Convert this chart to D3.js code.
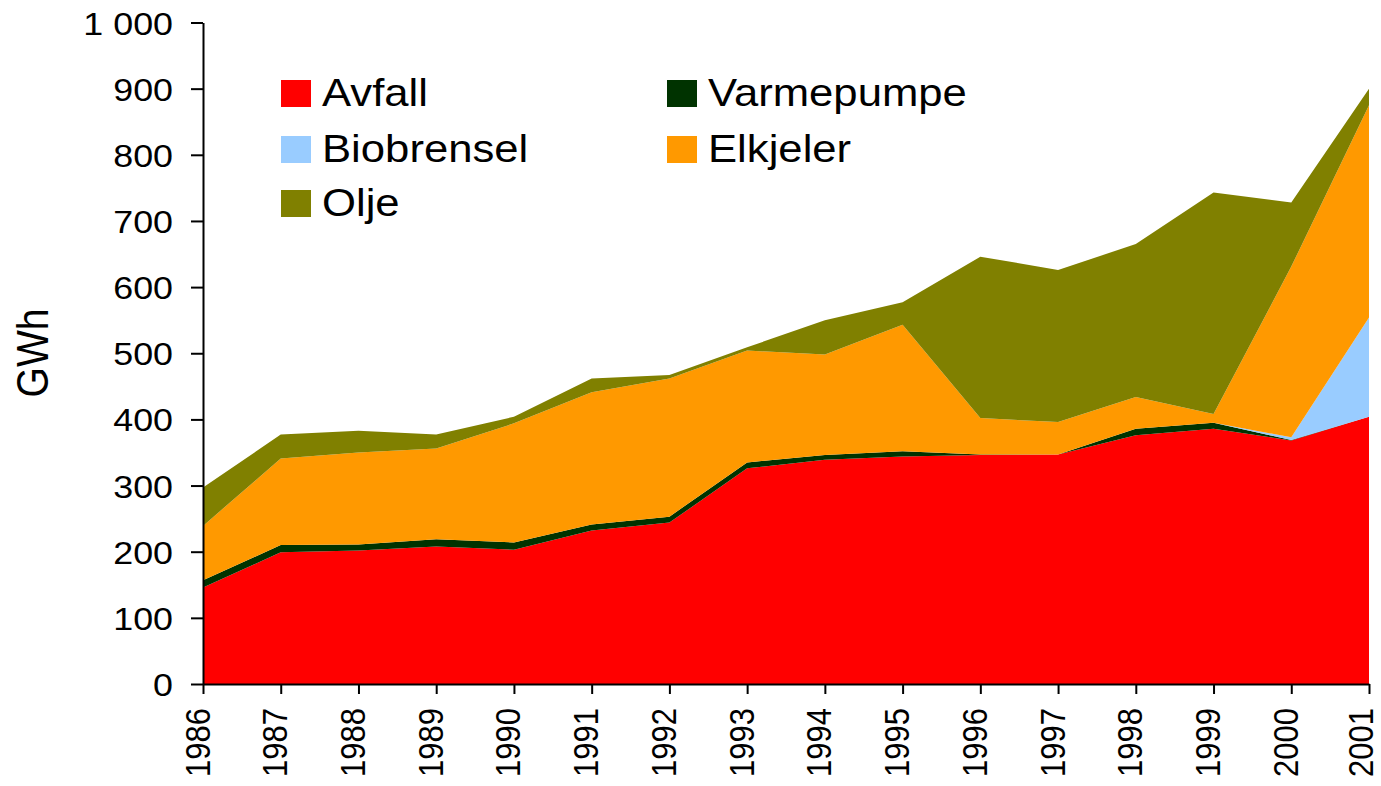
<!DOCTYPE html>
<html>
<head>
<meta charset="utf-8">
<script src="https://cdn.jsdelivr.net/npm/d3@7"></script>
<style>
  html, body { margin: 0; padding: 0; background: #fff; }
  svg { display: block; font-family: Arial, "Liberation Sans", sans-serif; }
</style>
</head>
<body>
<svg id="chart" width="1381" height="786"></svg>
<script>
/*
 * Data (GWh)
 * ========================================================================== */
const years      = [1986, 1987, 1988, 1989, 1990, 1991, 1992, 1993, 1994, 1995, 1996, 1997, 1998, 1999, 2000, 2001];
const avfall     = [146, 199, 202, 208, 203, 232, 244, 326, 339, 344, 346, 347, 376, 386, 368, 404];
const varmepumpe = [11, 11, 9, 11, 11, 9, 9, 9, 7, 8, 1, 0, 10, 9, 1, 0];
const biobrensel = [0, 0, 0, 0, 0, 0, 0, 0, 0, 0, 0, 0, 0, 0, 4, 150];
const elkjeler   = [82, 131, 139, 137, 180, 200, 209, 169, 152, 191, 55, 49, 48, 13, 258, 321];
const olje       = [58, 36, 33, 21, 10, 21, 5, 5, 52, 34, 244, 230, 231, 335, 97, 25];

const seriesNames  = ['Avfall', 'Varmepumpe', 'Biobrensel', 'Elkjeler', 'Olje'];
const seriesColors = ['#ff0000', '#003300', '#99ccff', '#ff9900', '#808000'];
const yTicks       = [0, 100, 200, 300, 400, 500, 600, 700, 800, 900, 1000];

// the original picture is stretched sideways a little
const STRETCH = 1.12;

const svg = d3.select('#chart');

let x = d3.scalePoint()
          .domain(years)
          .range([203, 1369]);

let y = d3.scaleLinear()
          .domain([0, 1000])
          .range([684, 22.5]);

/*
 * Stack the series
 */
let rows = years.map( (yr, i) => ({
  year: yr,
  Avfall: avfall[i],
  Varmepumpe: varmepumpe[i],
  Biobrensel: biobrensel[i],
  Elkjeler: elkjeler[i],
  Olje: olje[i]
}));

let stacked = d3.stack().keys(seriesNames)(rows);

let area = d3.area()
             .x(d => x(d.data.year))
             .y0(d => y(d[0]))
             .y1(d => y(d[1]));

svg.append('g')
    .selectAll('path')
    .data(stacked)
  .enter().append('path')
    .attr('d', area)
    .attr('fill', (d, i) => seriesColors[i]);

/*
 * Axes
 */
const fmt = d3.formatLocale({ decimal: ',', thousands: ' ', grouping: [3], currency: ['', ''] }).format(',');

let yAxis = svg.append('g')
    .attr('transform', 'translate(' + x(years[0]) + ',0)')
    .call(d3.axisLeft(y).tickValues(yTicks).tickFormat(fmt).tickSize(12).tickSizeOuter(0));

yAxis.selectAll('text')
    .attr('x', -30 / STRETCH)
    .attr('transform', 'scale(' + STRETCH + ',1)')
    .attr('dy', '0.36em')
    .style('font-size', '32px')
    .attr('fill', '#000');

let xAxis = svg.append('g')
    .attr('transform', 'translate(0,' + y(0) + ')')
    .call(d3.axisBottom(x).tickSize(10).tickSizeOuter(0));

// last label is nudged in so it stays inside the page
xAxis.selectAll('text')
    .attr('x', null)
    .attr('y', null)
    .attr('dy', null)
    .attr('text-anchor', 'end')
    .attr('transform', (d, i) => 'translate(' + (i === years.length - 1 ? 3 : 6) + ',24) rotate(-90) scale(1,' + STRETCH + ')')
    .style('font-size', '31px')
    .attr('fill', '#000');

svg.selectAll('.domain, .tick line')
    .attr('stroke', '#000')
    .attr('stroke-width', 2);

// y axis title
svg.append('text')
    .attr('transform', 'translate(48,353) rotate(-90) scale(1,' + STRETCH + ')')
    .attr('text-anchor', 'middle')
    .style('font-size', '39px')
    .text('GWh');

/*
 * Legend
 */
let legendPos = [
  { x: 281, y: 80 },  { x: 667, y: 80 },
  { x: 281, y: 136 }, { x: 667, y: 136 },
  { x: 281, y: 190 }
];

let legend = svg.append('g')
    .selectAll('g')
    .data(seriesNames)
  .enter().append('g')
    .attr('transform', (d, i) => 'translate(' + legendPos[i].x + ',' + legendPos[i].y + ')');

legend.append('rect')
    .attr('width', 30)
    .attr('height', 27)
    .attr('fill', (d, i) => seriesColors[i]);

legend.append('text')
    .attr('transform', 'translate(41,26) scale(' + STRETCH + ',1)')
    .style('font-size', '39px')
    .text(d => d);
</script>
</body>
</html>
